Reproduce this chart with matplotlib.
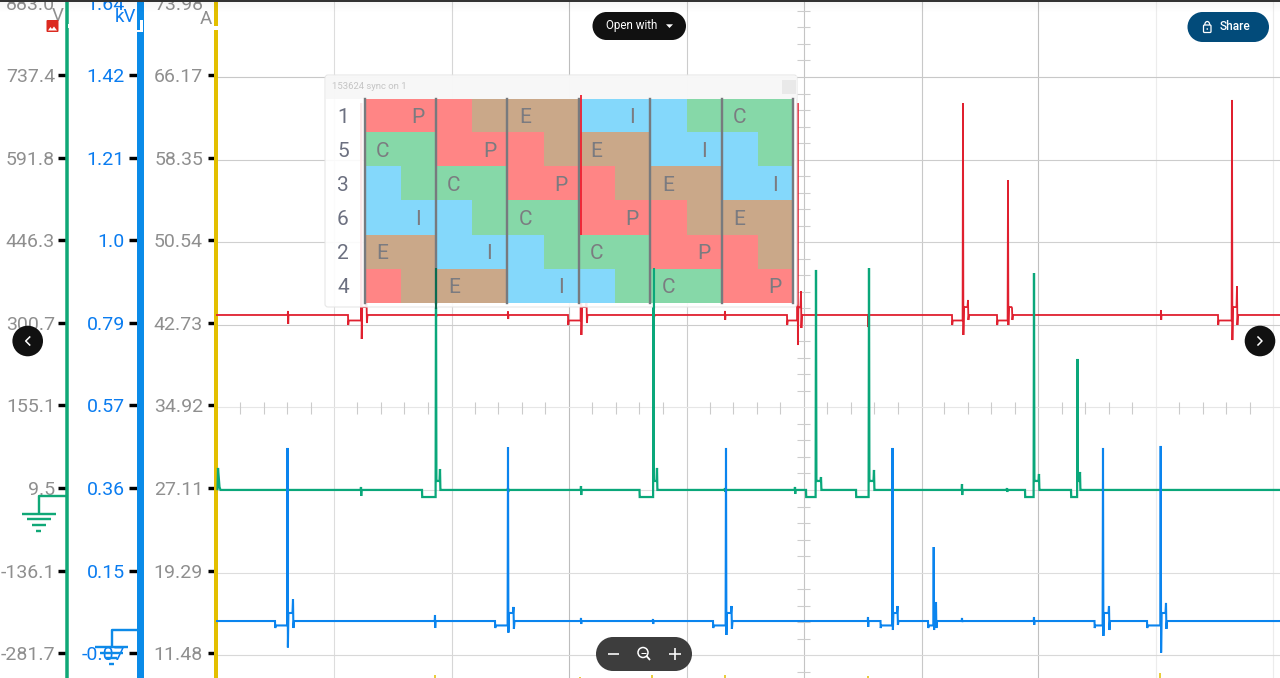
import numpy as np
import matplotlib
matplotlib.use("Agg")
import matplotlib.pyplot as plt
from matplotlib.colors import ListedColormap
from matplotlib.patches import FancyBboxPatch, Rectangle, Circle, Polygon, Arc

plt.rcParams['font.family'] = ['Roboto', 'DejaVu Sans']

# ---- axis tick labels -------------------------------------------------------
v_labels = ["883.0", "737.4", "591.8", "446.3", "300.7", "155.1", "9.5", "-136.1", "-281.7"]
kv_labels = ["1.64", "1.42", "1.21", "1.0", "0.79", "0.57", "0.36", "0.15", "-0.07"]
a_labels = ["73.98", "66.17", "58.35", "50.54", "42.73", "34.92", "27.11", "19.29", "11.48"]
grid_x = [334, 451.5, 569, 686.5, 804, 921.5, 1038, 1156, 1273]
grid_x_colors = ["#dddddd", "#d6d6d6", "#bdbdbd", "#cccccc", "#c4c4c4", "#c8c8c8", "#c0c0c0", "#ececec", "#ececec"]
grid_y_colors = ["#cccccc", "#c8c8c8", "#cccccc", "#d0d0d0", "#cccccc", "#e6e6e6", "#dddddd", "#dddddd", "#d8d8d8"]

# ---- red trace (values on the A scale) --------------------------------------
red_base, red_dip, red_dip_tip, red_shoulder = 43.47, 42.95, 42.52, 44.22
red_x = [361.3, 581, 797.5, 963, 1008, 1232]
red_dip_x = [348, 568, 787, 952, 997, 1218]
red_peak = [63.52, 64.28, 63.52, 63.52, 56.24, 63.81]
red_neg = [41.20, 41.58, 40.63, 41.58, 42.52, 41.10]
red_sec_x = [366.5, 586.5, 801, 968, 1012, 1237]
red_sec_top = [45.17, 45.17, 45.74, 44.89, 44.13, 46.21]
red_sec_bot = [42.71, 42.71, 42.24, 43.00, 43.00, 42.52]
red_tick_x = [288, 436, 508, 654, 725, 868, 1161]
red_tick_top = [43.85, 43.75, 43.80, 43.75, 43.85, 43.47, 43.94]
red_tick_bot = [42.62, 43.28, 43.09, 43.28, 43.00, 42.33, 43.00]

# ---- green trace ------------------------------------------------------------
green_base, green_dip, green_dip_tip, green_shoulder = 26.92, 26.25, 26.25, 27.77
green_x = [436, 653.5, 816, 869, 1034, 1077.5]
green_dip_x = [422, 639.5, 806, 856, 1025, 1071]
green_peak = [47.91, 47.91, 47.73, 47.91, 47.44, 39.31]
green_sec_x = [440, 657, 821, 874, 1039, 1080]
green_sec_top = [28.90, 29.00, 28.14, 28.81, 28.43, 28.62]
green_tick_x = [287.5, 361, 508, 581, 725, 795, 962, 1007]
green_tick_top = [27.10, 27.20, 27.10, 27.29, 27.10, 27.20, 27.48, 27.10]
green_tick_bot = [26.73, 26.35, 26.73, 26.44, 26.73, 26.54, 26.44, 26.73]
green_head_x = [217.5, 218, 219.5, 220.5]
green_head_y = [27.0, 29.0, 27.2, 26.92]

# ---- blue trace -------------------------------------------------------------
blue_base, blue_dip, blue_dip_tip, blue_shoulder = 14.52, 14.10, 13.86, 15.28
blue_x = [287.5, 508, 726, 892.5, 933.7, 1103, 1160.7]
blue_dip_x = [275, 495, 713, 880.5, 928, 1094.5, 1147]
blue_peak = [30.89, 30.98, 30.89, 30.89, 21.52, 30.89, 31.08]
blue_neg = [12.02, 13.42, 13.20, 13.67, 13.67, 13.11, 11.53]
blue_sec_x = [293, 513.5, 731.5, 897.5, 936, 1109, 1166]
blue_sec_top = [16.60, 15.85, 15.94, 15.94, 16.32, 15.94, 16.23]
blue_sec_bot = [13.86, 13.77, 13.77, 14.15, 13.86, 13.67, 13.77]
blue_tick_x = [435, 581, 653, 868, 962, 1034]
blue_tick_top = [15.09, 14.81, 14.71, 14.90, 14.81, 14.90]
blue_tick_bot = [13.86, 14.24, 14.24, 13.96, 14.43, 14.15]

# ---- yellow trace, almost entirely below the view ---------------------------
yellow_base = 8.47
yellow_x = [434.5, 580, 652, 725, 868, 1160]
yellow_top = [9.37, 9.23, 9.46, 9.37, 9.32, 9.65]

# ---- inset table ------------------------------------------------------------
table_title = "153624 sync on 1"
row_labels = ["1", "5", "3", "6", "2", "4"]
phase_cells = ["PPPEEEIIICCC", "CCPPPEEEIIIC", "ICCCPPPEEEII",
               "IIICCCPPPEEE", "EEIIICCCPPPE", "PEEEIIICCCPP"]
phase_marks = [" P  E  I  C ", "C  P  E  I  ", "  C  P  E  I",
               " I  C  P  E ", "E  I  C  P  ", "  E  I  C  P"]
phase_order = "PEIC"
phase_colors = ["#ff7f7f", "#c8a383", "#7dd6fb", "#80d6a3"]

W, H = 1280, 678
PX = 72 / 100
OVER = 20  # the scale axes run this many pixels above the figure
fig = plt.figure(figsize=(W / 100, H / 100), dpi=100, facecolor="white")
rect = [216 / W, 0, 1 - 216 / W, (H + OVER) / H]

k = 7.8133 / 82.6           # A per pixel
a_lo, a_hi = 9.13, 75.16    # A scale at the bottom edge and at the top of the axes
a_ticks = np.linspace(73.98, 11.48, 9)
v_ticks = np.linspace(883.0, -281.7, 9)
kv_ticks = np.linspace(1.64, -0.07, 9)
v_per_a = (v_ticks[0] - v_ticks[-1]) / (a_ticks[0] - a_ticks[-1])
kv_per_a = (kv_ticks[0] - kv_ticks[-1]) / (a_ticks[0] - a_ticks[-1])

# grid layer (sits 2 px below the ticks)
ax_grid = fig.add_axes(rect, zorder=1)
ax_grid.set_xlim(216, W)
ax_grid.set_ylim(a_lo + 2 * k, a_hi + 2 * k)
ax_grid.set_xticks(grid_x)
ax_grid.set_yticks(a_ticks)
ax_grid.grid(True, lw=0.8)
for ln, c in zip(ax_grid.get_xgridlines(), grid_x_colors):
    ln.set_color(c)
for ln, c in zip(ax_grid.get_ygridlines(), grid_y_colors):
    ln.set_color(c)
ax_grid.tick_params(length=0, labelleft=False, labelbottom=False)
for s in ax_grid.spines.values():
    s.set_visible(False)

# pixel layer for the minor rulers below the traces
ax_rule = fig.add_axes([0, 0, 1, 1], zorder=1.5)
ax_rule.set_xlim(0, W)
ax_rule.set_ylim(H, 0)
ax_rule.axis("off")
ax_rule.patch.set_alpha(0)
cx, cy = grid_x[4], 407
for n in range(-8, 45):
    x = 334 + n * 23.48
    if n % 5 and x > 218:
        ax_rule.plot([x, x], [cy - 5, cy + 7], color="#cbcbcb", lw=0.8, solid_capstyle="butt")
for n in range(-4, 37):
    y = 77 + n * 16.52
    if n % 5 and 0 < y < H:
        ax_rule.plot([cx - 7, cx + 6], [y, y], color="#cdcdcd", lw=0.8, solid_capstyle="butt")


def scale_axes(ticks, labels, lims, color, lab_color, offset_px, spine_px, tick_px, pad_px, z):
    ax = fig.add_axes(rect, zorder=z)
    ax.patch.set_alpha(0)
    ax.set_xlim(216, W)
    ax.set_ylim(*lims)
    ax.set_xticks([])
    ax.set_yticks(ticks[1:], labels[1:])   # the top label is clamped into view, see below
    for name, s in ax.spines.items():
        s.set_visible(name == "left")
    sp = ax.spines["left"]
    sp.set_position(("outward", offset_px * PX))
    sp.set_color(color)
    sp.set_linewidth(spine_px * PX)
    ax.tick_params(axis="y", length=tick_px * PX, width=3.4 * PX, color="black",
                   labelcolor=lab_color, labelsize=14, pad=pad_px * PX)
    for lab in ax.get_yticklabels():
        lab.set_verticalalignment("center_baseline")
    return ax


a_mid = a_ticks[0]
to_v = lambda a: v_ticks[0] + (a - a_mid) * v_per_a
to_kv = lambda a: kv_ticks[0] + (a - a_mid) * kv_per_a
ax_a = scale_axes(a_ticks, a_labels, (a_lo, a_hi), "#e3bf00", "#8f8f8f", 0, 4, 8, 5, 2)
ax_kv = scale_axes(kv_ticks, kv_labels, (to_kv(a_lo), to_kv(a_hi)), "#0a8be8", "#0a7cf0", 76.5, 7, 11.5, 3, 2.1)
ax_v = scale_axes(v_ticks, v_labels, (to_v(a_lo), to_v(a_hi)), "#10a877", "#8f8f8f", 149.3, 3.5, 8.7, 3, 2.2)


def build_trace(base, dip, dip_tip, shoulder, xs, dip_xs, peaks, negs, sec_xs, sec_tops, sec_bots,
                tick_xs, tick_tops, tick_bots, head=None):
    groups = []
    for i in range(len(xs)):
        groups.append((dip_xs[i], [
            (dip_xs[i], base), (dip_xs[i] + 0.2, dip_tip), (dip_xs[i] + 0.8, dip),
            (xs[i] - 0.4, dip), (xs[i], peaks[i]), (xs[i] + 0.4, negs[i]), (xs[i] + 0.9, shoulder),
            (sec_xs[i] - 0.5, shoulder), (sec_xs[i], sec_tops[i]), (sec_xs[i] + 0.4, sec_bots[i]),
            (sec_xs[i] + 1.0, base)]))
    for x, t, b in zip(tick_xs, tick_tops, tick_bots):
        groups.append((x, [(x - 0.3, base), (x, t), (x + 0.2, b), (x + 0.5, base)]))
    groups.sort(key=lambda g: g[0])
    pts = list(head) if head else [(216, base)]
    for _, g in groups:
        pts.extend(g)
    pts.append((W, base))
    arr = np.array(pts)
    return arr[:, 0], arr[:, 1]


rx, ry = build_trace(red_base, red_dip, red_dip_tip, red_shoulder, red_x, red_dip_x, red_peak, red_neg,
                     red_sec_x, red_sec_top, red_sec_bot, red_tick_x, red_tick_top, red_tick_bot)
n_g = len(green_x)
gx, gy = build_trace(green_base, green_dip, green_dip_tip, green_shoulder, green_x, green_dip_x, green_peak,
                     [green_shoulder] * n_g, green_sec_x, green_sec_top, [green_base] * n_g,
                     green_tick_x, green_tick_top, green_tick_bot, head=list(zip(green_head_x, green_head_y)))
bx, by = build_trace(blue_base, blue_dip, blue_dip_tip, blue_shoulder, blue_x, blue_dip_x, blue_peak, blue_neg,
                     blue_sec_x, blue_sec_top, blue_sec_bot, blue_tick_x, blue_tick_top, blue_tick_bot)
ax_a.plot(rx, ry, color="#e0202f", lw=1.3, solid_joinstyle="miter", zorder=3)
ax_a.plot(gx, gy, color="#0aa77a", lw=1.6, solid_joinstyle="miter", zorder=4)
ax_a.plot(bx, by, color="#0a84ee", lw=1.5, solid_joinstyle="miter", zorder=5)
ax_a.vlines(yellow_x, yellow_base, yellow_top, color="#e3bf00", lw=1.1, zorder=3)

# ---- chrome in pixel coordinates --------------------------------------------
ui = fig.add_axes([0, 0, 1, 1], zorder=3)
ui.set_xlim(0, W)
ui.set_ylim(H, 0)
ui.axis("off")
ui.patch.set_alpha(0)


def pill(x0, y0, x1, y1, color, z=30):
    r = (y1 - y0) / 2
    ui.add_patch(Circle((x0 + r, y0 + r), r, fc=color, ec="none", zorder=z))
    ui.add_patch(Circle((x1 - r, y0 + r), r, fc=color, ec="none", zorder=z))
    ui.add_patch(Rectangle((x0 + r, y0), x1 - x0 - 2 * r, y1 - y0, fc=color, ec="none", zorder=z))


def seg(xs, ys, c, lw, z=31, cap="butt"):
    ui.plot(xs, ys, color=c, lw=lw * PX, solid_capstyle=cap, zorder=z)


# inset panel
ui.add_patch(FancyBboxPatch((325, 75), 472, 232, boxstyle="round,pad=0,rounding_size=3",
                            fc="white", ec="#e4e4e4", lw=0.8, alpha=0.90, zorder=5))
ui.add_patch(Rectangle((325.5, 75.5), 471, 23, fc="#f6f6f6", ec="none", alpha=0.85, zorder=6))
ui.add_patch(Rectangle((782, 80), 14, 14, fc="#e9e9e9", ec="none", zorder=7))
ui.text(332, 86.5, table_title, fontsize=6.8, color="#c4c4c4", va="center", ha="left", zorder=7)

tx0, tx1, ty0, ty1 = 364.5, 793, 99, 303
ax_t = fig.add_axes([tx0 / W, 1 - ty1 / H, (tx1 - tx0) / W, (ty1 - ty0) / H], zorder=3.1)
cells = np.array([[phase_order.index(c) for c in row] for row in phase_cells])
ax_t.imshow(cells, cmap=ListedColormap(phase_colors), vmin=0, vmax=3, aspect="auto",
            interpolation="nearest", extent=(0, 12, 6, 0), alpha=0.95)
for v in range(0, 13, 2):
    ax_t.axvline(v, color="#777a7e", lw=2.4 * PX, clip_on=False)
ax_t.set_xticks([])
ax_t.set_yticks([])
for s in ax_t.spines.values():
    s.set_visible(False)
half_px = (tx1 - tx0) / 12
for r, lab in enumerate(row_labels):
    ax_t.text((343 - tx0) / half_px, r + 0.55, lab, ha="center", va="center", fontsize=15,
              color="#6c7080", clip_on=False)
for r, row in enumerate(phase_marks):
    for c, ch in enumerate(row):
        if ch != " ":
            ax_t.text(c + 0.5, r + 0.55, ch, ha="center", va="center", fontsize=15, color="#7b7b80")

# traces that show through the inset
ov = fig.add_axes(rect, zorder=3.2)
ov.patch.set_alpha(0)
ov.axis("off")
ov.set_xlim(216, W)
ov.set_ylim(a_lo, a_hi)
ov.plot([red_x[1], red_x[1]], [red_peak[1], 51.0], color="#ee2030", lw=1.3, solid_capstyle="butt")
ov.plot([green_x[0], green_x[0]], [green_peak[0], 44.0], color="#0a6b50", lw=1.5, solid_capstyle="butt")
ov.plot([green_x[1], green_x[1]], [green_peak[1], 44.0], color="#0aa77a", lw=1.5, solid_capstyle="butt")

ui2 = fig.add_axes([0, 0, 1, 1], zorder=4)
ui2.set_xlim(0, W)
ui2.set_ylim(H, 0)
ui2.axis("off")
ui2.patch.set_alpha(0)
ui = ui2

# top edge with a soft shadow
ui.add_patch(Rectangle((0, 0), W, 1.6, fc="#333333", ec="none", zorder=40))
for i in range(10):
    ui.add_patch(Rectangle((0, 1.6 + i), W, 1, fc="black", ec="none", alpha=0.03 * (1 - i / 10), zorder=39))

# top tick labels, held at the edge of the view and cut by it as in the reference
ui.text(55, 3, v_labels[0], fontsize=14, color="#8f8f8f", ha="right", va="center_baseline", clip_on=True)
ui.text(125, 3, kv_labels[0], fontsize=14, color="#0a7cf0", ha="right", va="center_baseline", clip_on=True)
ui.text(203, 3, a_labels[0], fontsize=14, color="#8f8f8f", ha="right", va="center_baseline", clip_on=True)

# axis units and small markers
ui.text(58, 16, "V", fontsize=13.5, color="#8f8f8f", ha="center", va="center")
ui.text(125.5, 17.5, "kV", fontsize=13.5, color="#0a7cf0", ha="center", va="center")
ui.text(206, 19, "A", fontsize=13.5, color="#8f8f8f", ha="center", va="center")
ui.add_patch(FancyBboxPatch((46.5, 20), 12, 12, boxstyle="round,pad=0,rounding_size=1", fc="#dc2a20", ec="none", zorder=20))
ui.add_patch(Polygon([(48, 30.5), (50.5, 27), (52, 29), (54, 26.5), (57, 30.5)], fc="white", ec="none", zorder=21))
ui.add_patch(Rectangle((139.5, 20), 3.2, 11, fc="white", ec="none", zorder=20))
ui.add_patch(Rectangle((136, 30), 7, 1.5, fc="white", ec="none", zorder=20))
ui.add_patch(Rectangle((214, 26), 4, 4, fc="white", ec="none", zorder=20))
ui.add_patch(Rectangle((67.5, 24), 1.5, 4, fc="white", ec="none", zorder=20))

# ground symbols
for col, px, py0, py1, sx, bars in [
    ("#10a877", 38.7, 496, 513.5, 66, [(22, 56, 513.5), (27, 51, 519), (32, 46, 525), (36, 41, 530.5)]),
    ("#0d8ae8", 111.6, 630, 647, 137, [(95, 128, 647), (100, 123, 652.7), (106, 117, 658), (109, 114, 664)]),
]:
    seg([sx, px, px], [py0, py0, py1], col, 2.4, z=20)
    for a, b, y in bars:
        seg([a, b], [y, y], col, 2.4, z=20)

# Open with
pill(592.5, 12, 686, 40, "#111111")
ui.text(631.5, 26, "Open with", color="white", fontsize=8.4, ha="center", va="center", zorder=31)
ui.add_patch(Polygon([(666, 24.3), (673, 24.3), (669.5, 28)], fc="white", ec="none", zorder=31))

# Share
pill(1187.5, 12, 1269, 42, "#024b7a")
ui.text(1235.5, 27, "Share", color="white", fontsize=8.6, ha="center", va="center", zorder=31, weight="medium")
ui.add_patch(FancyBboxPatch((1203.5, 25), 7.5, 7.5, boxstyle="round,pad=0,rounding_size=1", fc="none", ec="white", lw=0.9, zorder=31))
ui.add_patch(Arc((1207.25, 25), 5, 7, theta1=180, theta2=360, ec="white", lw=0.9, zorder=31))
ui.add_patch(Circle((1207.25, 29), 0.8, fc="white", ec="none", zorder=31))

# previous / next
for ccx, sign in [(27.7, 1), (1260, -1)]:
    ui.add_patch(Circle((ccx, 341), 15.3, fc="#111111", ec="none", zorder=30))
    ui.plot([ccx + sign * 2, ccx - sign * 2, ccx + sign * 2], [337, 341, 345], color="white", lw=1.1, zorder=31)

# zoom control
pill(596, 637, 692, 671, "#3d3d3d")
seg([607.5, 619], [653.5, 653.5], "white", 1.6)
seg([668.5, 680.5], [654, 654], "white", 1.6)
seg([674.5, 674.5], [648, 660], "white", 1.6)
ui.add_patch(Circle((643, 652.5), 5, fc="none", ec="white", lw=1.1, zorder=31))
seg([646.5, 650], [656, 660], "white", 1.8)
seg([640.5, 645.5], [652.5, 652.5], "white", 1)

fig.savefig("out.png", dpi=100)
